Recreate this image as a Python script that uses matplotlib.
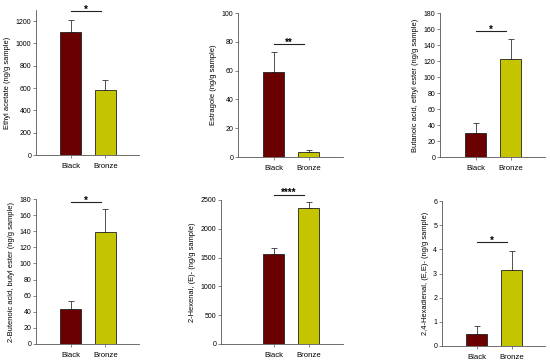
import numpy as np
import matplotlib
matplotlib.use("Agg")
import matplotlib.pyplot as plt

plt.rcParams['font.family'] = ['Liberation Sans', 'DejaVu Sans']

# Data
groups = ["Black", "Bronze"]
compounds = [
    "Ethyl acetate (ng/g sample)",
    "Estragole (ng/g sample)",
    "Butanoic acid, ethyl ester (ng/g sample)",
    "2-Butenoic acid, butyl ester (ng/g sample)",
    "2-Hexenal, (E)- (ng/g sample)",
    "2,4-Hexadienal, (E,E)- (ng/g sample)",
]
black_mean = [1105, 59, 30, 44, 1570, 0.5]
bronze_mean = [580, 3.5, 123, 139, 2360, 3.13]
black_err = [105, 14, 13, 9, 105, 0.33]
bronze_err = [95, 1.5, 24, 28, 110, 0.8]
signif = ["*", "**", "*", "*", "****", "*"]
signif_y = [1290, 78.5, 157, 176, 2590, 4.3]
y_max = [1300, 100, 180, 180, 2500, 6]
y_step = [200, 20, 20, 20, 500, 1]
y_tick_top = [1200, 100, 180, 180, 2500, 6]

# Layout in pixels: axis left, axis right, top, bottom, black bar centre
W, H = 550, 364
boxes = [
    (36, 139, 10, 155, 70.5),
    (238, 343, 13, 157, 273.5),
    (440, 545, 13, 157, 475.5),
    (36, 139, 199, 344, 70.5),
    (221, 343, 200, 344, 273.5),
    (442, 545, 201, 346, 476.5),
]
SPACING = 35.0  # px between bar centres
BAR_W = 21.0 / SPACING

COL_BLACK = "#6b0000"
COL_BRONZE = "#c4c400"
AXIS_COL = "#555555"

fig = plt.figure(figsize=(W / 100, H / 100), dpi=100)

for i in range(6):
    left, right, top, bottom, c0 = boxes[i]
    ax = fig.add_axes([left / W, 1 - bottom / H, (right - left) / W, (bottom - top) / H])
    x = np.array([1, 2])
    means = [black_mean[i], bronze_mean[i]]
    errs = [black_err[i], bronze_err[i]]
    ax.bar(x, means, width=BAR_W, color=[COL_BLACK, COL_BRONZE],
           edgecolor="#222222", linewidth=0.6, zorder=2)
    ax.errorbar(x, means, yerr=[[0, 0], errs], fmt="none", ecolor="#333333",
                elinewidth=0.6, capsize=2.5, capthick=0.6, zorder=1)
    xl = 1 - (c0 - left) / SPACING
    xr = 1 + (right - c0) / SPACING
    ax.set_xlim(xl, xr)
    ax.set_ylim(0, y_max[i])
    ax.set_yticks(np.arange(0, y_tick_top[i] + y_step[i] / 2, y_step[i]))
    ax.set_xticks(x)
    ax.set_xticklabels(groups, fontsize=5.6)
    ax.tick_params(axis="y", labelsize=5, length=2, width=0.5, color=AXIS_COL, pad=1.5)
    ax.tick_params(axis="x", length=2, width=0.5, color=AXIS_COL, pad=4)
    for s in ["top", "right"]:
        ax.spines[s].set_visible(False)
    for s in ["left", "bottom"]:
        ax.spines[s].set_color(AXIS_COL)
        ax.spines[s].set_linewidth(0.6)
    ax.set_ylabel(compounds[i], fontsize=5.4, labelpad=3)

    # significance bar
    ys = signif_y[i]
    ax.plot([1.0, 1.88], [ys, ys], color="#222222", lw=0.8, clip_on=False)
    ax.annotate(signif[i], xy=(1.44, ys), xytext=(0, -2.5), textcoords="offset points",
                ha="center", va="bottom", fontsize=7, fontweight="bold",
                annotation_clip=False)

fig.savefig("out.png", dpi=100)
